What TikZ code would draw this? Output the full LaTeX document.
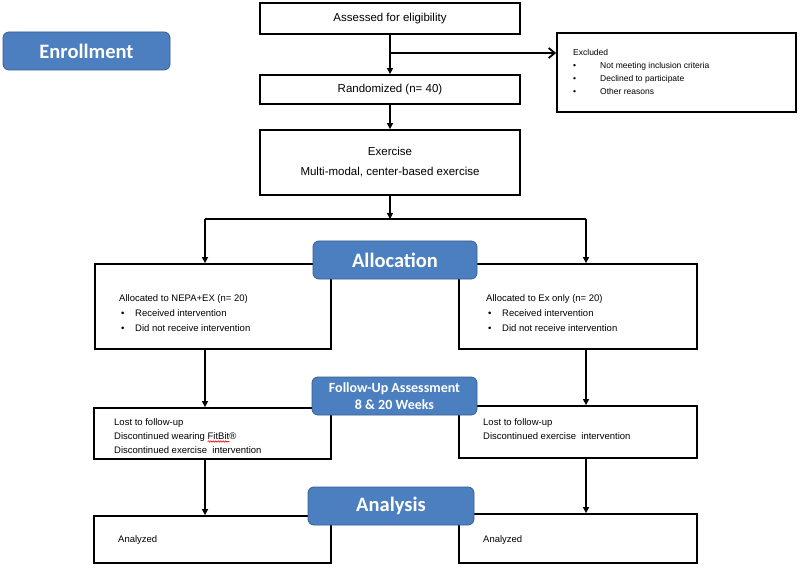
\documentclass[tikz,border=0pt]{standalone}
\usepackage{fontspec}
\setmainfont{Liberation Sans}
\newfontfamily\carl{Carlito}
\usetikzlibrary{arrows.meta,decorations.pathmorphing}
\definecolor{hdrblue}{RGB}{76,127,192}
\definecolor{hdredge}{RGB}{56,93,140}
\newcommand\mybul{\makebox[27pt][l]{\textbullet}}
\newcommand\mybulb{\hspace*{2pt}\makebox[14pt][l]{\textbullet}}
\begin{document}
\begin{tikzpicture}[x=1pt,y=-1pt,
 box/.style={draw=black, line width=1.8pt, fill=white, inner sep=0pt, rectangle},
 hdr/.style={draw=hdredge, line width=0.8pt, fill=hdrblue, rounded corners=6pt, inner sep=0pt, text=white, minimum height=38pt, font=\carl\bfseries\fontsize{20.5}{24}\selectfont},
 arr/.style={line width=1.8pt, -{Triangle[length=6pt,width=6pt]}},
 ln/.style={line width=1.8pt},
 txt/.style={inner sep=0pt, align=left, anchor=west},
 ctxt/.style={font=\fontsize{11.5}{14}\selectfont},
 stxt/.style={font=\fontsize{9.5}{15}\selectfont}]
\fill[white] (0,0) rectangle (800,569);
\useasboundingbox (0,0) rectangle (800,569);

% white boxes
\node[box, ctxt, minimum width=260pt, minimum height=31pt] (assess) at (390,18.5) {Assessed for eligibility};
\node[box, ctxt, minimum width=260pt, minimum height=29pt] (rand) at (390,89.5) {Randomized (n= 40)};
\node[box, align=center, font=\fontsize{11.5}{20}\selectfont, minimum width=260pt, minimum height=65pt] (exer) at (390,162.5) {Exercise\\Multi-modal, center-based exercise};
\node[box, minimum width=239pt, minimum height=79pt] (excl) at (676.5,72.5) {};
\node[txt, font=\fontsize{8.5}{12.7}\selectfont] (excltxt) at (573,72) {Excluded\\\mybul Not meeting inclusion criteria\\\mybul Declined to participate\\\mybul Other reasons};

\node[box, minimum width=236pt, minimum height=85pt] (allocL) at (213,306.5) {};
\node[box, minimum width=238pt, minimum height=85pt] (allocR) at (578,306.5) {};
\node[txt, stxt] (allocLtxt) at (119,313) {Allocated to NEPA+EX (n= 20)\\\mybulb Received intervention\\\mybulb Did not receive intervention};
\node[txt, stxt] (allocRtxt) at (486,313) {Allocated to Ex only (n= 20)\\\mybulb Received intervention\\\mybulb Did not receive intervention};

\node[box, minimum width=237pt, minimum height=51pt] (fuL) at (212.5,433.5) {};
\node[box, minimum width=238pt, minimum height=52pt] (fuR) at (578,432) {};
\node[txt, font=\fontsize{9.5}{14}\selectfont] (fuLtxt) at (114,436) {Lost to follow-up\\Discontinued wearing FitBit®\\Discontinued exercise\ \ intervention};
\draw[red, line width=0.6pt, decorate, decoration={snake, amplitude=0.7pt, segment length=2.5pt}] ([xshift=93.5pt,yshift=-5.5pt]fuLtxt.west) -- ([xshift=115pt,yshift=-5.5pt]fuLtxt.west);
\node[txt, font=\fontsize{9.5}{14}\selectfont] (fuRtxt) at (483,429) {Lost to follow-up\\Discontinued exercise\ \ intervention};

\node[box, minimum width=237pt, minimum height=47pt] (anL) at (212.5,539.5) {};
\node[box, minimum width=238pt, minimum height=49pt] (anR) at (578,538.5) {};
\node[txt, stxt] (anLtxt) at (118,540) {Analyzed};
\node[txt, stxt] (anRtxt) at (483,540) {Analyzed};

% connectors
\draw[arr] (assess.south) -- (rand.north);
\coordinate (br) at (390,53);
\draw[ln, -{Straight Barb[length=6pt,width=10pt]}] (br) -- (br -| excl.west);
\draw[arr] (rand.south) -- (exer.north);
\coordinate (split) at (390,219);
\coordinate (jl) at (205,219);
\coordinate (jr) at (586,219);
\draw[arr] (exer.south) -- (split);
\draw[ln] (jl) -- (jr);
\draw[arr] (jl) -- (jl |- allocL.north);
\draw[arr] (jr) -- (jr |- allocR.north);
\draw[arr] (allocL.south -| jl) -- (jl |- fuL.north);
\draw[arr] (allocR.south -| jr) -- (jr |- fuR.north);
\draw[arr] (fuL.south -| jl) -- (jl |- anL.north);
\draw[arr] (fuR.south -| jr) -- (jr |- anR.north);

% blue headers
\node[hdr, minimum width=167pt] (enroll) at (86.5,51) {Enrollment};
\node[hdr, minimum width=164pt] (alloc) at (395,260) {Allocation};
\node[hdr, minimum width=165pt, align=center, font=\carl\bfseries\fontsize{14}{17}\selectfont] (fu) at (394.5,396) {Follow-Up Assessment\\8 \& 20 Weeks};
\node[hdr, minimum width=166pt] (anal) at (391,506) {Analysis};
\end{tikzpicture}
\end{document}
